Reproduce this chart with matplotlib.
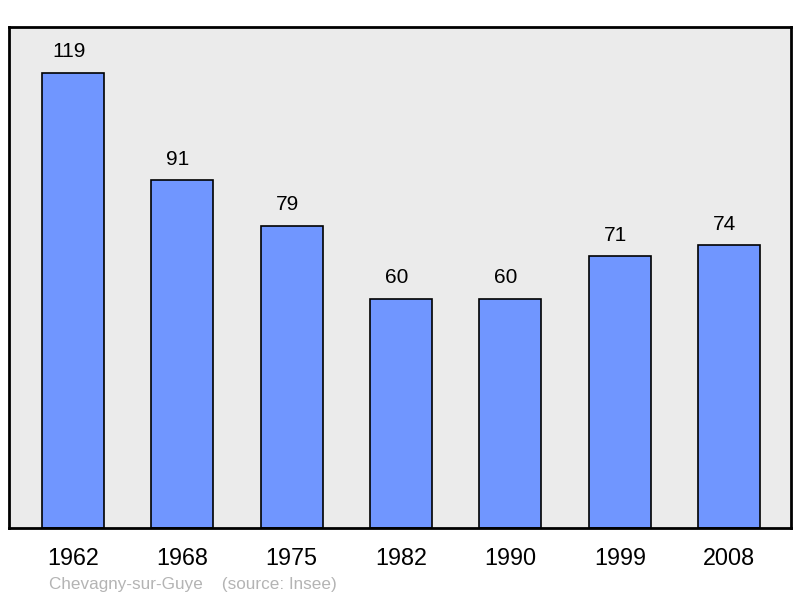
import matplotlib
matplotlib.use("Agg")
import matplotlib.pyplot as plt

years = ["1962", "1968", "1975", "1982", "1990", "1999", "2008"]
population = [119, 91, 79, 60, 60, 71, 74]
title_text = "Chevagny-sur-Guye    (source: Insee)"

plt.rcParams['font.family'] = ['Liberation Sans', 'DejaVu Sans']

fig = plt.figure(figsize=(8, 5.98), dpi=100)
ax = fig.add_axes([9/800, (598-528)/598, (791-9)/800, (528-27)/598])
ax.set_facecolor('#ebebeb')
x = list(range(len(years)))
ax.bar(x, population, width=0.567, color='#7096ff', edgecolor='black', linewidth=1.2, zorder=2)
for xi, v in zip(x, population):
    ax.text(xi - 0.04, v + 3.0, str(v), ha='center', va='bottom', fontsize=15)
ax.set_xlim(-0.585, 6.565)
ax.set_ylim(0, 131)
ax.set_yticks([])
ax.set_xticks(x)
ax.set_xticklabels(years, fontsize=16.8)
ax.tick_params(axis='x', length=0, pad=14)
for s in ax.spines.values():
    s.set_linewidth(2)
fig.text(49/800, 1 - 585/598, title_text, fontsize=12.3, color='#b4b4b4', ha='left', va='center')
fig.savefig('out.png', dpi=100)
